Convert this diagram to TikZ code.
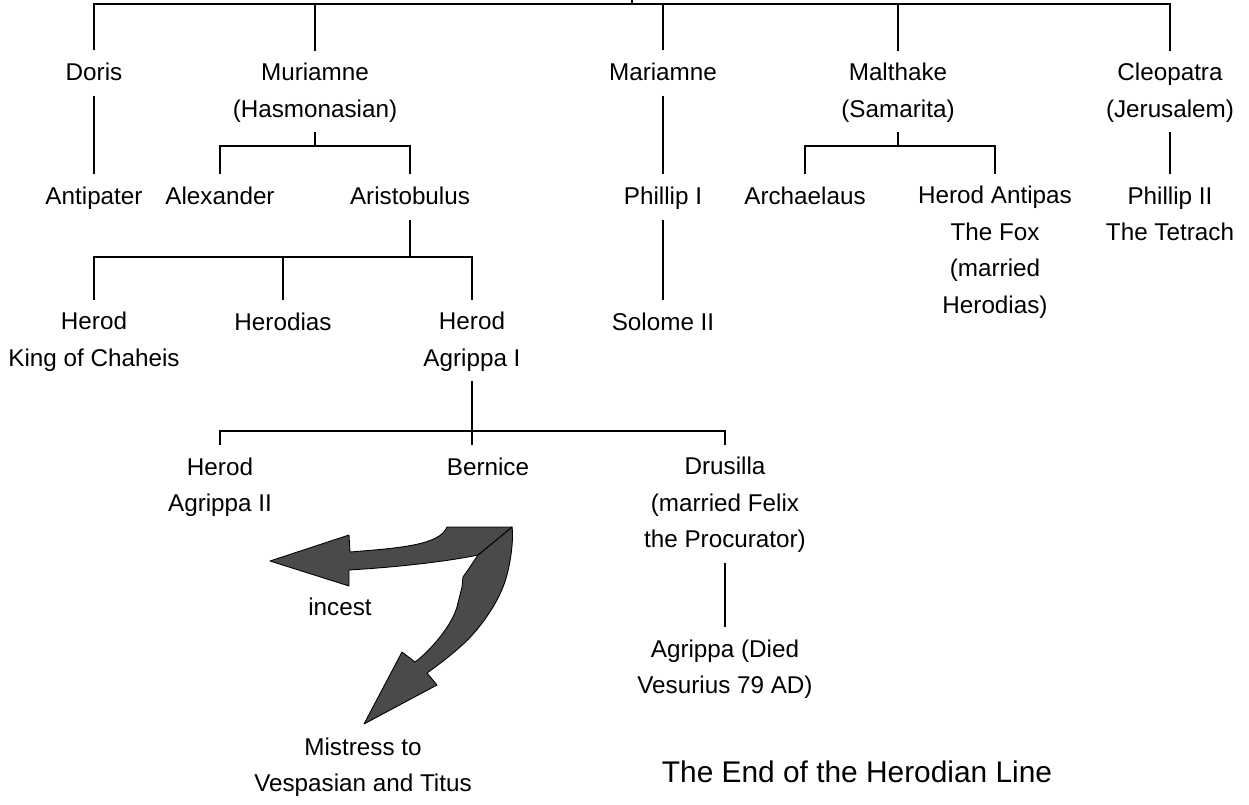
\documentclass[tikz,border=0pt]{standalone}
\usepackage{fontspec}
\setmainfont{Liberation Sans}
\begin{document}
\begin{tikzpicture}[x=0.02cm,y=-0.02cm,
  person/.style={font=\fontsize{13.8}{20.8}\selectfont, align=center, inner xsep=0pt, inner ysep=2.5pt, outer sep=0pt},
  link/.style={draw=black, line width=0.7pt},
  bigarrow/.style={fill=black!71, draw=black, line width=0.5pt, line join=round}]
\useasboundingbox (0,0) rectangle (1249,805);
% nodes
\node[person] (doris) at (94,73) {\strut Doris};
\node[person] (muri) at (315,91.5) {\strut Muriamne\\\strut (Hasmonasian)};
\node[person] (mari) at (663,73) {\strut Mariamne};
\node[person] (malt) at (898,91.5) {\strut Malthake\\\strut (Samarita)};
\node[person] (cleo) at (1170,91.5) {\strut Cleopatra\\\strut (Jerusalem)};
\node[person] (antip) at (94,197) {\strut Antipater};
\node[person] (alex) at (220,197) {\strut Alexander};
\node[person] (aris) at (410,197) {\strut Aristobulus};
\node[person] (phil1) at (663,197) {\strut Phillip I};
\node[person] (arch) at (805,197) {\strut Archaelaus};
\node[person] (antipas) at (995,251) {\strut Herod Antipas\\\strut The Fox\\\strut (married\\\strut Herodias)};
\node[person] (phil2) at (1170,215) {\strut Phillip II\\\strut The Tetrach};
\node[person] (hck) at (94,340.5) {\strut Herod\\\strut King of Chaheis};
\node[person] (herodias) at (283,323) {\strut Herodias};
\node[person] (ha1) at (472,340.5) {\strut Herod\\\strut Agrippa I};
\node[person] (solome) at (663,323) {\strut Solome II};
\node[person] (ha2) at (220,486) {\strut Herod\\\strut Agrippa II};
\node[person] (bern) at (488,468) {\strut Bernice};
\node[person] (drus) at (725,504) {\strut Drusilla\\\strut (married Felix\\\strut the Procurator)};
\node[person] (agr) at (725,668) {\strut Agrippa (Died\\\strut Vesurius 79 AD)};
\node[person] (incest) at (340,608) {\strut incest};
\node[person] (mistress) at (363,766) {\strut Mistress to\\\strut Vespasian and Titus};
\node[font=\fontsize{17}{20}\selectfont, inner sep=0pt] (title) at (857,772) {The End of the Herodian Line};
% junctions
\coordinate (top) at (632,0);
\coordinate (topj) at (632,4);
\coordinate (jm) at (315,146);
\coordinate (jt) at (898,146);
\coordinate (ja) at (410,257);
\coordinate (jb) at (472,431);
% connectors
\draw[link] (top) -- (topj);
\draw[link] (doris.north) |- (topj) -| (cleo.north);
\draw[link] (muri.north) -- (muri.north |- topj);
\draw[link] (mari.north) -- (mari.north |- topj);
\draw[link] (malt.north) -- (malt.north |- topj);
\draw[link] (doris.south) -- (antip.north);
\draw[link] (muri.south) -- (jm);
\draw[link] (alex.north) |- (jm) -| (aris.north);
\draw[link] (mari.south) -- (phil1.north);
\draw[link] (phil1.south) -- (solome.north);
\draw[link] (malt.south) -- (jt);
\draw[link] (arch.north) |- (jt) -| (antipas.north);
\draw[link] (cleo.south) -- (phil2.north);
\draw[link] (aris.south) -- (ja);
\draw[link] (hck.north) |- (ja) -| (ha1.north);
\draw[link] (herodias.north) -- (herodias.north |- ja);
\draw[link] (ha1.south) -- (jb);
\draw[link] (ha2.north) |- (jb) -| (drus.north);
\draw[link] (jb) -- (jb |- bern.north);
\draw[link] (drus.south) -- (agr.north);
% curved block arrows
\draw[bigarrow] (512,527) .. controls (514,540) and (510,570) .. (503,587)
  .. controls (497,603) and (480,630) .. (460,647)
  .. controls (450,656) and (437,666) .. (427,673)
  -- (437,685) -- (364,724) -- (402,652) -- (415,662)
  .. controls (425,655) and (450,630) .. (457,607)
  -- (462,587) -- (463,577) -- (468,570) -- (478,555) -- cycle;
\draw[bigarrow] (447,527) -- (512,527) -- (478,555)
  .. controls (450,561) and (400,567) .. (349,570)
  -- (349,586) -- (270,561) -- (349,535) -- (350,552)
  .. controls (400,548) and (440,545) .. cycle;
\end{tikzpicture}
\end{document}
